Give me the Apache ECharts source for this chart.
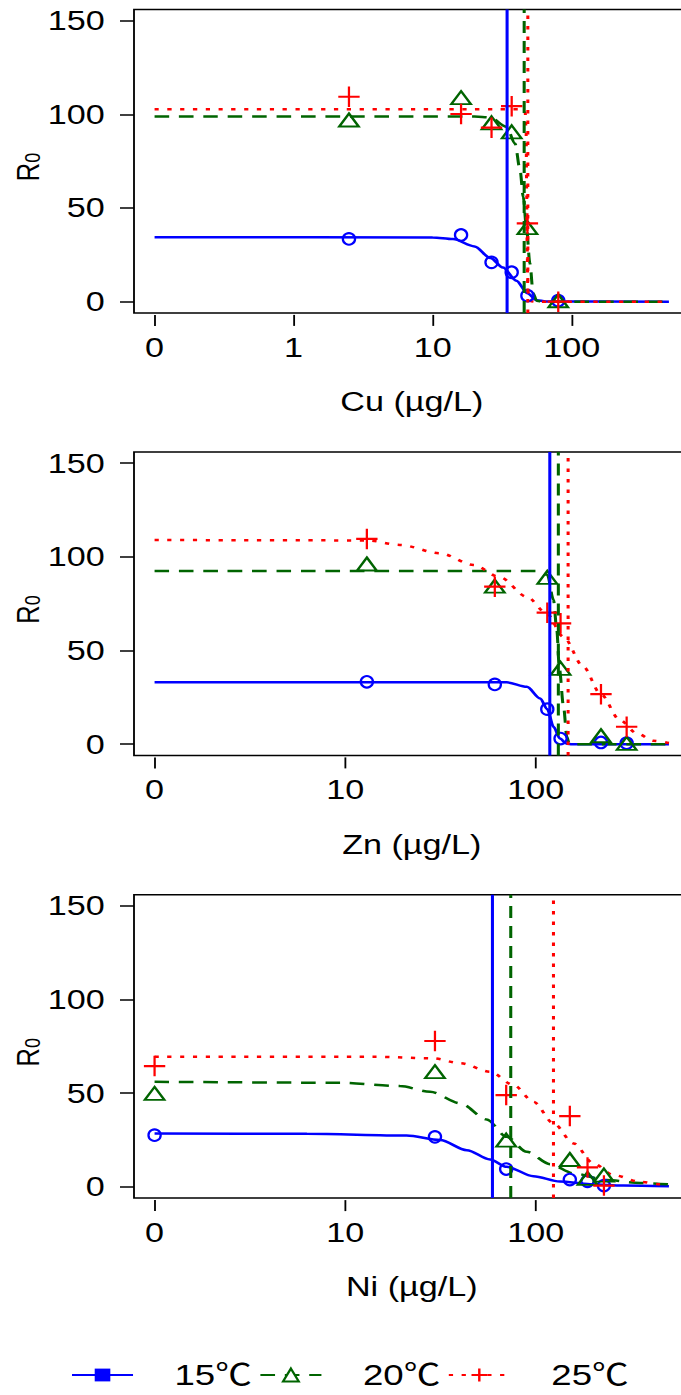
<!DOCTYPE html>
<html>
<head>
<meta charset="utf-8">
<script src="https://cdn.jsdelivr.net/npm/echarts@6/dist/echarts.min.js"></script>
<style>
html,body{margin:0;padding:0;background:#fff;overflow:hidden;}
#c{width:558px;height:1395px;transform:scaleX(1.22043);transform-origin:0 0;}
</style>
</head>
<body>
<div id="c"></div>
<script>
// ---------------- data ----------------
const temps = ['15℃', '20℃', '25℃'];

// Cu panel
const cuConc = [2.5, 16, 26.5, 37, 48, 80];
const cuR0_15 = [33.5, 35.6, 21.0, 15.7, 3.2, 0.5];
const cuR0_20 = [97.0, 108.9, 95.5, 90.7, 39.5, 0.5];
const cuR0_25 = [109.4, 100.2, 92.9, 104.4, 41.8, 0.0];
const cuFit15 = [[0,34.4],[10,34.3],[14,33.4],[20,29.5],[26,23.3],[32,18.2],[40,11.2],[48,4.5],[56,0.8],[65,0.1],[500,0]];
const cuFit20 = [[0,98.9],[20,98.9],[25.8,98.4],[34,93.4],[39.1,84.5],[42.5,70.3],[44.8,56],[47.4,38.3],[50,20.5],[52.8,4.5],[56,0.5],[62,0],[500,0]];
const cuFit25 = [[0,102.8],[44,102.8],[46.3,101],[47,90],[47.4,60],[47.8,30],[48.3,8],[49,1.5],[51,0.2],[55,0],[500,0]];
const cuEC50 = [33.5, 45.9, 47.6];
const cuTicks = [0, 1, 10, 100];

// Zn panel
const znConc = [13, 61, 115, 135, 220, 300];
const znR0_15 = [33.3, 31.9, 18.7, 3.0, 0.9, 0.5];
const znR0_20 = [96.2, 84.4, 89.1, 40.5, 4.5, 0.4];
const znR0_25 = [109.6, 84.1, 70.2, 64.5, 26.7, 9.3];
const znFit15 = [[0,33.0],[70.5,33.0],[89.8,30.6],[105.5,24.4],[115,18.7],[124,9.3],[134,3.0],[145.6,0.2],[155,0],[500,0]];
const znFit20 = [[0,92.5],[103,92.5],[115,90.5],[124,77],[129,61],[133,40.5],[140,20],[145.6,3.9],[150,0.3],[160,0],[500,0]];
const znFit25 = [[0,109.0],[13,108.8],[19.4,106.4],[31.5,101.9],[47.1,95.7],[65,89.1],[89.8,78.7],[114,69.8],[139.8,57.3],[178,41.3],[218,27.1],[277,12.8],[340,5.7],[415,1.8],[500,0.6]];
const znEC50 = [116.6, 131.6, 147.4];
const znTicks = [0, 10, 100];

// Ni panel
const niConc = [0, 29.6, 70, 151, 187, 228];
const niR0_15 = [27.6, 26.7, 9.5, 3.9, 3.0, 0.7];
const niR0_20 = [49.9, 61.5, 25.0, 14.6, 4.5, 6.3];
const niR0_25 = [64.5, 77.9, 49.0, 37.8, 10.4, 0.7];
const niFit15 = [[0,28.5],[6.3,28.3],[21,27.4],[31.5,25.0],[43.5,19.6],[57.6,14.6],[70.5,10.7],[97.3,5.7],[134,2.9],[193,1.4],[288,0.7],[500,0.3]];
const niFit20 = [[0,56.1],[9.4,55.6],[19.4,53.8],[27.9,50.8],[40.2,44.6],[55.3,36.0],[70.5,26.7],[89.8,18.7],[119,12.1],[158,7.2],[236,3.6],[353,2.1],[500,1.3]];
const niFit25 = [[0,69.5],[14.1,69.5],[29,68.6],[40.2,66.0],[57.6,61.5],[76.4,54.4],[97.3,45.4],[124,33.9],[158,23.2],[201,12.5],[256,6.3],[353,2.7],[450,1.4],[500,1.2]];
const niEC50 = [59.5, 74.9, 122.4];
const niTicks = [0, 10, 100];

const r0Ticks = [0, 50, 100, 150];

// ---------------- styling / layout ----------------
const S = 681 / 558;                 // horizontal stretch applied by CSS
const FONT = '"Liberation Sans", Arial, "Noto Sans CJK SC", sans-serif';
const LEGFONT = '"Liberation Sans", "Noto Sans CJK SC", sans-serif';
const COLORS = ['#0000ff', '#006400', '#ff0000'];
const DASH = ['solid', [12, 8], [3.5, 7]];
const PLUS = 'path://M0,10L20,10M10,0L10,20';
const SYMBOLS = ['circle', 'triangle', PLUS];
const SYMSIZE = [[10, 11.5], [16, 13], [17.5, 20.5]];
const LEGSYM = ['rect', 'triangle', PLUS];

const GL = 134.0 / S, GW = 555.5 / S, GH = 303.4;
const tops = [9.5, 452.0, 894.7];

const panels = [
  {name: 'Cu (µg/L)', zero: -1, ticks: cuTicks, conc: cuConc, obs: [cuR0_15, cuR0_20, cuR0_25], fits: [cuFit15, cuFit20, cuFit25], ec50: cuEC50},
  {name: 'Zn (µg/L)', zero: 0, ticks: znTicks, conc: znConc, obs: [znR0_15, znR0_20, znR0_25], fits: [znFit15, znFit20, znFit25], ec50: znEC50},
  {name: 'Ni (µg/L)', zero: 0, ticks: niTicks, conc: niConc, obs: [niR0_15, niR0_20, niR0_25], fits: [niFit15, niFit20, niFit25], ec50: niEC50}
];

// concentration -> log10 position (0 is drawn at the panel's pseudo-zero)
const tx = (c, zero) => c === 0 ? zero : Math.log10(c);

const grids = [], xAxes = [], yAxes = [], series = [];

panels.forEach((p, i) => {
  const maxC = Math.max(...p.fits[0].map(d => d[0]));
  const lo = p.zero, hi = Math.log10(maxC), ext = 0.04 * (hi - lo);
  const tickPos = p.ticks.map(t => tx(t, p.zero));

  grids.push({left: GL, width: GW, top: tops[i], height: GH, show: true,
    borderColor: '#000', borderWidth: 1.5, backgroundColor: 'transparent',
    containLabel: false, outerBoundsMode: 'none'});

  xAxes.push({
    gridIndex: i, type: 'value', position: 'bottom', min: lo - ext, max: hi + ext, offset: 2,
    axisLine: {show: false, onZero: false},
    axisTick: {show: true, customValues: tickPos, length: 11, lineStyle: {color: '#000', width: 1.5}},
    axisLabel: {show: true, customValues: tickPos, margin: 18.4, fontSize: 28, color: '#000', fontFamily: FONT,
      formatter: v => { const k = tickPos.findIndex(q => Math.abs(q - v) < 1e-9); return k >= 0 ? String(p.ticks[k]) : ''; }},
    splitLine: {show: false},
    name: p.name, nameLocation: 'middle', nameGap: 72.8, nameMoveOverlap: false,
    nameTextStyle: {fontSize: 28, color: '#000', fontFamily: FONT}
  });

  yAxes.push({
    gridIndex: i, type: 'value', position: 'left', min: -6, max: 156,
    axisLine: {show: false, onZero: false},
    axisTick: {show: true, customValues: r0Ticks, length: 11.5, lineStyle: {color: '#000', width: 1.5}},
    axisLabel: {show: true, customValues: r0Ticks, margin: 24, fontSize: 28, color: '#000', fontFamily: FONT},
    splitLine: {show: false},
    name: '{a|R}{b|0}', nameLocation: 'middle', nameGap: 74, nameMoveOverlap: false,
    nameTextStyle: {color: '#000', fontFamily: FONT, padding: [0, 12, 0, 0],
      rich: {a: {fontSize: 26, color: '#000', fontFamily: FONT},
             b: {fontSize: 18, lineHeight: 10, verticalAlign: 'bottom', color: '#000', fontFamily: FONT}}}
  });

  for (let k = 0; k < 3; k++) {
    // fitted curve (named for the legend) + EC50 line
    series.push({
      type: 'line', name: temps[k], xAxisIndex: i, yAxisIndex: i,
      data: p.fits[k].map(d => [tx(d[0], p.zero), d[1]]),
      showSymbol: false, symbol: LEGSYM[k], symbolSize: 12,
      itemStyle: {color: k === 0 ? COLORS[k] : '#ffffff', borderColor: COLORS[k], borderWidth: k === 0 ? 0 : 2},
      lineStyle: {color: COLORS[k], width: 2.5, type: DASH[k], cap: 'butt'},
      smooth: 0.3, smoothMonotone: 'x', silent: true, z: 3,
      markLine: {silent: true, symbol: ['none', 'none'], label: {show: false},
        lineStyle: {color: COLORS[k], width: 2.5, type: DASH[k], cap: 'butt'},
        emphasis: {disabled: true},
        data: [{xAxis: tx(p.ec50[k], p.zero)}]}
    });
    // observations
    series.push({
      type: 'scatter', name: temps[k] + ' obs', xAxisIndex: i, yAxisIndex: i,
      data: p.conc.map((c, j) => [tx(c, p.zero), p.obs[k][j]]),
      symbol: SYMBOLS[k], symbolSize: SYMSIZE[k],
      itemStyle: {color: 'rgba(0,0,0,0)', borderColor: COLORS[k], borderWidth: 2, opacity: 1},
      silent: true, z: 4
    });
  }
});

const chart = echarts.init(document.getElementById('c'), null, {renderer: 'svg'});
chart.setOption({
  animation: false,
  backgroundColor: '#fff',
  grid: grids,
  xAxis: xAxes,
  yAxis: yAxes,
  legend: {
    data: temps, left: 58, top: 1359, orient: 'horizontal', padding: 0,
    itemWidth: 50, itemHeight: 16, itemGap: 6, selectedMode: false,
    textStyle: {fontSize: 30, lineHeight: 32, color: '#000', fontFamily: LEGFONT, padding: [0, 0, 0, 29]}
  },
  series: series
});
</script>
</body>
</html>
